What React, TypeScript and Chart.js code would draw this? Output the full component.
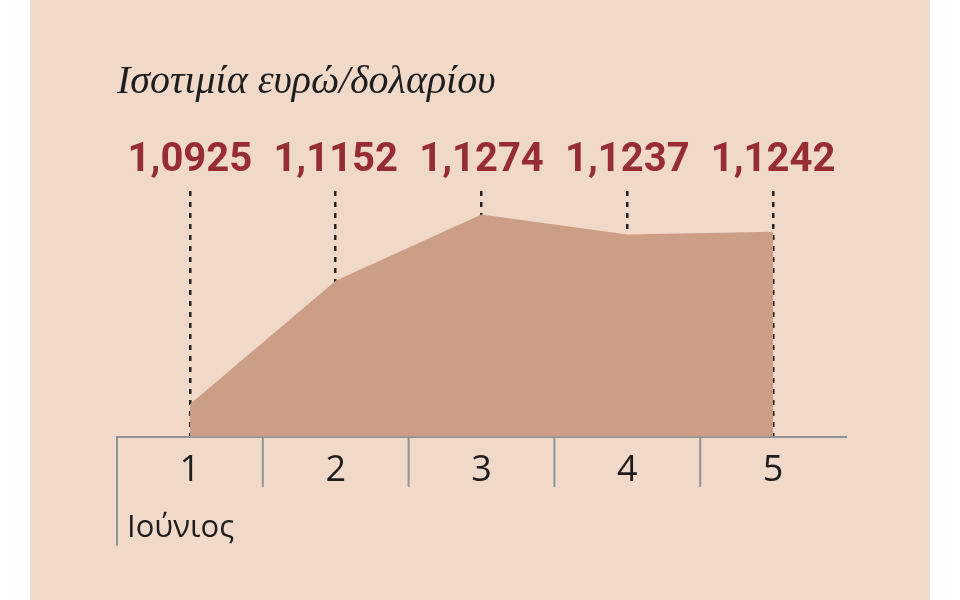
import { useRef, useEffect } from 'react'
import { Chart, registerables } from 'chart.js'

Chart.register(...registerables)

const days = ['1', '2', '3', '4', '5']
const rates = [1.0925, 1.1152, 1.1274, 1.1237, 1.1242]
const rateLabels = ['1,0925', '1,1152', '1,1274', '1,1237', '1,1242']
const monthLabel = 'Ιούνιος'
const titleText = 'Ισοτιμία ευρώ/δολαρίου'

const PANEL = '#f1d9ca'
const AREA = '#cd9e86'
const RED = '#962d34'
const AXIS = '#8f9396'
const INK = '#1e1e1e'

// day separators below the axis, the long left one, and the month name
const monthPlugin = {
  id: 'monthLabel',
  afterDraw(chart: Chart) {
    const x = chart.scales.x
    const ctx = chart.ctx
    ctx.save()
    ctx.strokeStyle = AXIS
    ctx.lineWidth = 2
    for (let i = 0; i < days.length; i++) {
      const px = i === 0 ? x.left : (x.getPixelForValue(i - 1) + x.getPixelForValue(i)) / 2
      ctx.beginPath()
      ctx.moveTo(px, x.top)
      ctx.lineTo(px, x.top + (i === 0 ? 109 : 50))
      ctx.stroke()
    }
    ctx.fillStyle = INK
    ctx.font = '31px "Open Sans"'
    ctx.textBaseline = 'middle'
    ctx.textAlign = 'left'
    ctx.fillText(monthLabel, x.left + 10, x.top + 91)
    ctx.restore()
  },
}

export default function App() {
  const canvasRef = useRef<HTMLCanvasElement>(null)
  const chartRef = useRef<Chart | null>(null)

  useEffect(() => {
    if (!canvasRef.current) return
    if (chartRef.current) chartRef.current.destroy()

    chartRef.current = new Chart(canvasRef.current, {
      type: 'line',
      data: {
        labels: days,
        datasets: [
          {
            data: rates,
            xAxisID: 'x',
            yAxisID: 'y',
            fill: 'start',
            backgroundColor: AREA,
            borderColor: 'transparent',
            borderWidth: 0,
            pointRadius: 0,
            tension: 0,
          },
        ],
      },
      plugins: [monthPlugin],
      options: {
        animation: false,
        responsive: true,
        maintainAspectRatio: false,
        layout: { padding: { left: 87, right: 84, top: 0, bottom: 96 } },
        scales: {
          x: {
            type: 'category',
            position: 'bottom',
            offset: true,
            grid: { display: false, drawTicks: false },
            border: { display: true, color: AXIS, width: 2 },
            ticks: {
              color: INK,
              padding: 12,
              autoSkip: false,
              font: { family: '"Open Sans"', size: 36 },
              maxRotation: 0,
            },
          },
          x2: {
            type: 'category',
            position: 'top',
            labels: rateLabels,
            offset: true,
            z: 1,
            grid: {
              offset: false,
              drawOnChartArea: true,
              drawTicks: false,
              lineWidth: 2.5,
              color: '#222222',
            },
            border: { display: false, dash: [5, 6] },
            ticks: {
              color: RED,
              padding: 6,
              autoSkip: false,
              font: { family: 'Roboto', size: 40, weight: 'bold' },
              maxRotation: 0,
            },
          },
          y: {
            display: false,
            min: 1.0865,
            max: 1.1317,
          },
        },
        plugins: {
          legend: { display: false },
          tooltip: { enabled: false },
          title: {
            display: true,
            text: titleText,
            align: 'start',
            color: INK,
            font: { family: '"Liberation Serif", serif', size: 40, style: 'italic', weight: 'normal' },
            padding: { top: 58, bottom: 25 },
          },
        },
      },
    })

    return () => {
      chartRef.current?.destroy()
      chartRef.current = null
    }
  }, [])

  return (
    <div style={{ position: 'fixed', left: 30, top: 0, width: 900, height: 600, background: PANEL }}>
      <canvas ref={canvasRef} />
    </div>
  )
}
